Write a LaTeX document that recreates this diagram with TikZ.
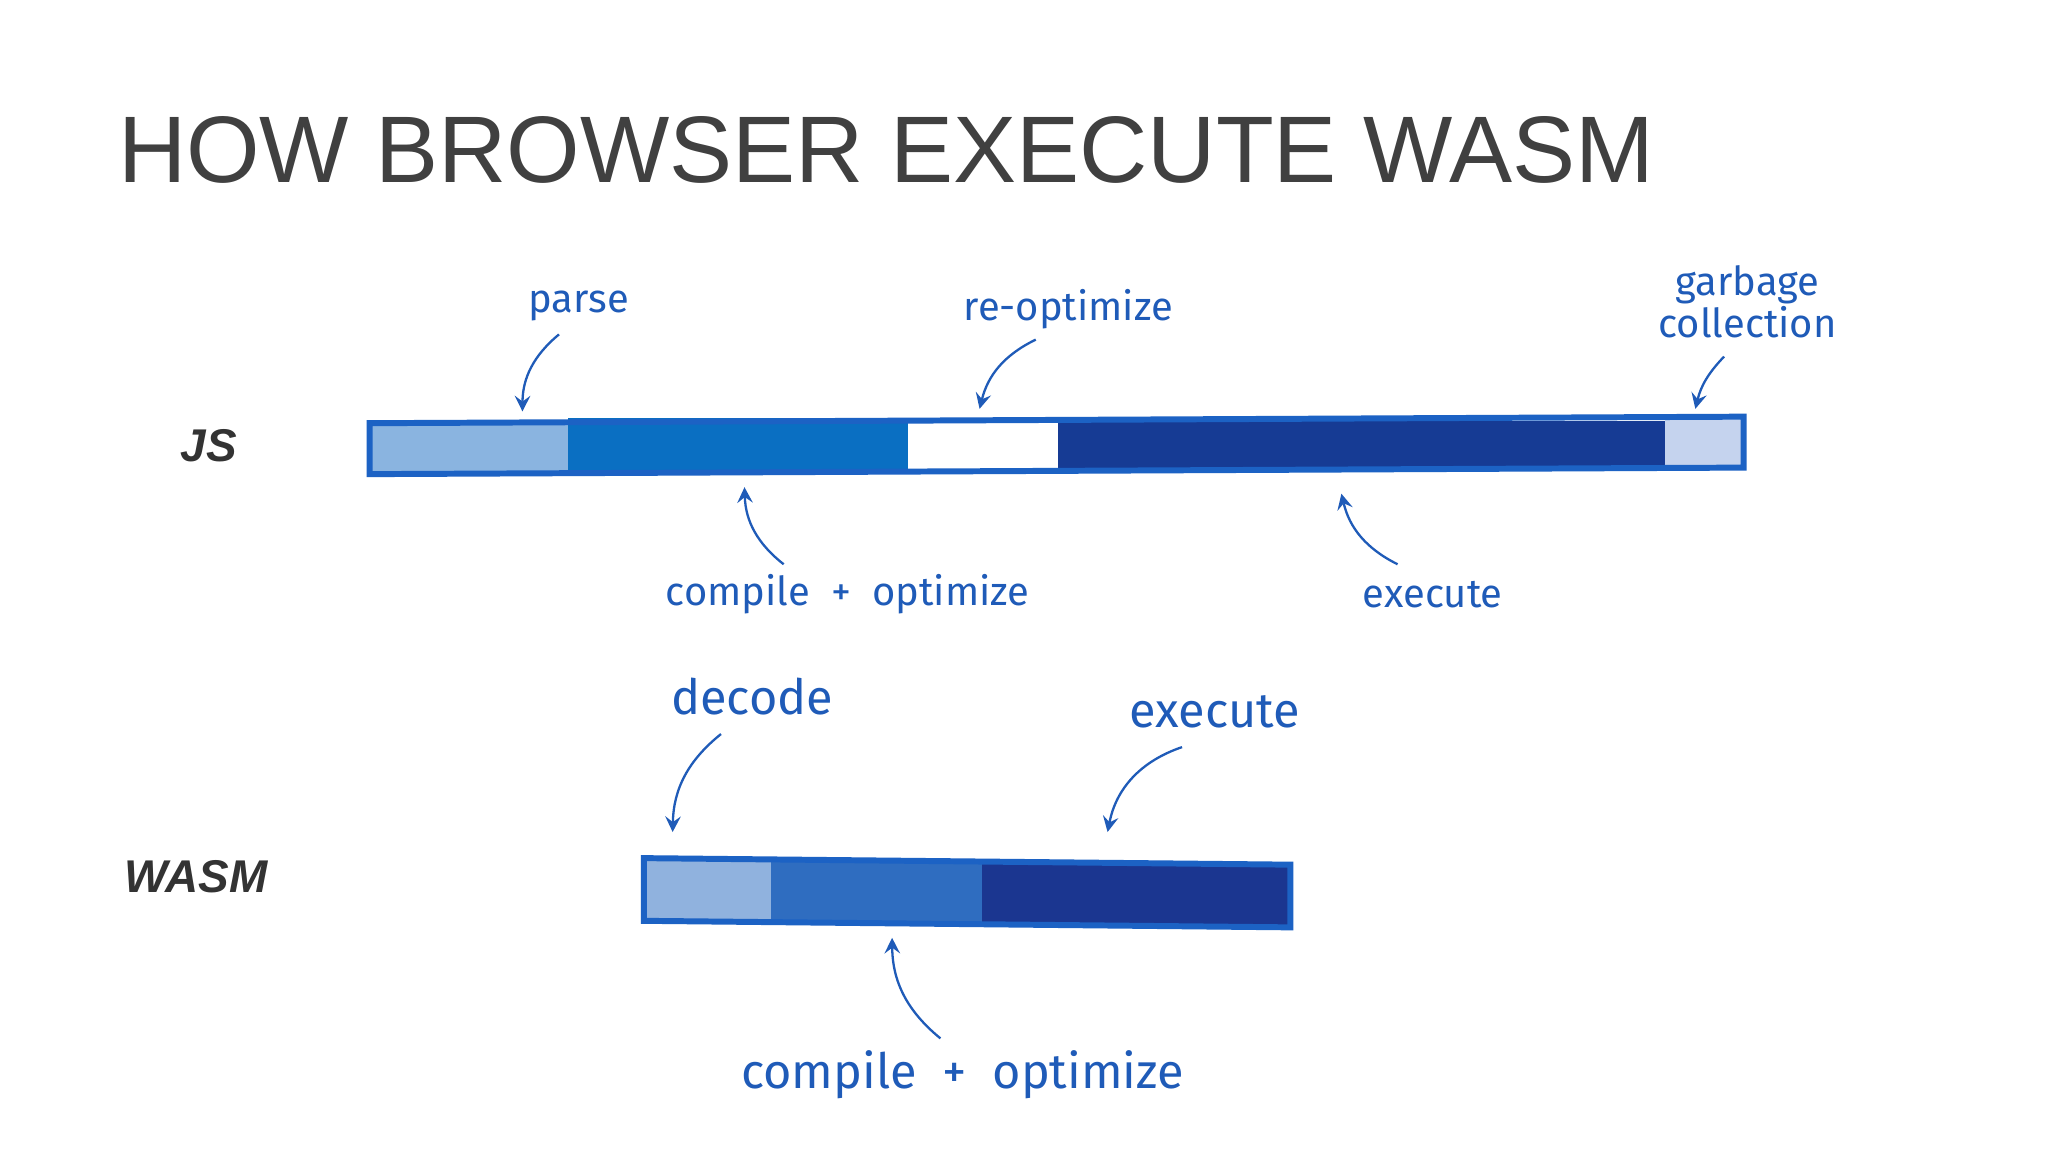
\documentclass[tikz,border=0pt]{standalone}
\usepackage{fontspec}
\setmainfont{Liberation Sans}
\newfontfamily\hand{Fira Sans}
\begin{document}
\begin{tikzpicture}[x=0.1mm,y=-0.1mm,
  lab/.style={text=hblue,font=\hand\fontsize{8.7}{11}\selectfont,align=center},
  blab/.style={text=hblue,font=\hand\fontsize{10.6}{13}\selectfont},
  side/.style={font=\bfseries\itshape\fontsize{10}{12}\selectfont,text=black!80},
  arr/.style={draw=hblue,line width=0.5pt,->,>=stealth},
  bar/.style={draw=bblue,line width=1.3pt}]
\definecolor{hblue}{HTML}{1F5BB8}
\definecolor{bblue}{HTML}{1C62C4}
\definecolor{c1}{HTML}{8AB4E0}
\definecolor{c2}{HTML}{0A6FC2}
\definecolor{c3}{HTML}{163B94}
\definecolor{c4}{HTML}{C5D3EE}
\definecolor{w1}{HTML}{90B2DE}
\definecolor{w2}{HTML}{2F6DC0}
\definecolor{w3}{HTML}{1B3690}
\useasboundingbox[fill=white] (0,0) rectangle (1568,882);
\node[anchor=west,text=black!75,font=\fontsize{20.6}{24}\selectfont] (title) at (78,115) {HOW BROWSER EXECUTE WASM};
% JS bar
\fill[c1] (283,324) rectangle (435,362);
\fill[c2] (435,320) rectangle (695,360);
\fill[white] (695,322) rectangle (810,358);
\fill[c3] (810,322) rectangle (1275,360);
\fill[c4] (1275,320) rectangle (1335,358);
\draw[bar] (283,324) -- (1335,319) -- (1335,358) -- (283,363) -- cycle;
% WASM bar
\fill[w1] (493,658) rectangle (590,705);
\fill[w2] (590,658) rectangle (752,707);
\fill[w3] (752,660) rectangle (988,708);
\draw[bar] (493,657) -- (988,662) -- (988,710) -- (493,705) -- cycle;
\node[side] (js) at (160,341) {JS};
\node[side] (wasm) at (150,671) {WASM};
\node[lab] (parse) at (443,234) {parse};
\node[lab] (reopt) at (818,237) {re-optimize};
\node[lab] (gc) at (1338,231) {garbage\\[-2pt]collection};
\node[lab] (cojs) at (649,455) {compile\ \ +\ \ optimize};
\node[lab] (exjs) at (1097,455) {execute};
\node[blab] (dec) at (576,533) {decode};
\node[blab] (exw) at (930,545) {execute};
\node[blab] (cow) at (737,823) {compile\ \ +\ \ optimize};
\coordinate (p1) at (428,256); \coordinate (p2) at (400,315);
\coordinate (r1) at (793,260); \coordinate (r2) at (750,313);
\coordinate (g1) at (1320,273); \coordinate (g2) at (1298,313);
\coordinate (c1a) at (600,432); \coordinate (c1b) at (570,373);
\coordinate (e1a) at (1070,432); \coordinate (e1b) at (1027,378);
\coordinate (d1) at (552,562); \coordinate (d2) at (515,637);
\coordinate (x1) at (905,572); \coordinate (x2) at (848,637);
\coordinate (w1a) at (720,795); \coordinate (w1b) at (683,718);
\draw[arr] (p1) to[bend right=25] (p2);
\draw[arr] (r1) to[bend right=25] (r2);
\draw[arr] (g1) to[bend right=15] (g2);
\draw[arr] (c1a) to[bend left=25] (c1b);
\draw[arr] (e1a) to[bend left=25] (e1b);
\draw[arr] (d1) to[bend right=25] (d2);
\draw[arr] (x1) to[bend right=30] (x2);
\draw[arr] (w1a) to[bend left=25] (w1b);
\end{tikzpicture}
\end{document}
